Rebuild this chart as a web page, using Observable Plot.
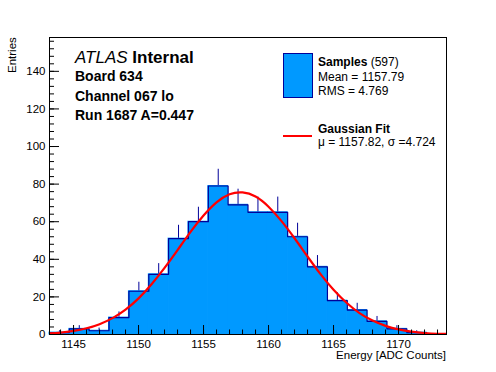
<!DOCTYPE html>
<html><head><meta charset="utf-8">
<script src="https://cdn.jsdelivr.net/npm/d3@7"></script>
<script src="https://cdn.jsdelivr.net/npm/@observablehq/plot@0.6"></script>
<style>
body{margin:0;background:#fff;}
#wrap{position:relative;width:496px;height:372px;font-family:"Liberation Sans",Arial,Helvetica,sans-serif;color:#000;}
.t{position:absolute;white-space:nowrap;line-height:1;}
.b{font-weight:bold;}
</style></head><body><div id="wrap"></div>
<script>
// Histogram bin edges (ADC counts) and contents
const binEdges = [1143.15, 1144.68, 1146.20, 1147.73, 1149.26, 1150.79, 1152.31, 1153.84, 1155.37, 1156.89,
                  1158.42, 1159.95, 1161.47, 1163.00, 1164.53, 1166.06, 1167.58, 1169.11, 1170.64, 1172.16, 1173.69];
const counts = [1, 3, 2, 9, 23, 32, 51, 60, 79, 69, 65, 65, 52, 36, 18, 13, 7, 3, 1, 0];
const errors = [1.0, 1.7, 1.4, 3.0, 4.8, 5.7, 7.1, 7.7, 8.9, 8.3, 8.1, 8.1, 7.2, 6.0, 4.2, 3.6, 2.6, 1.7, 1.0, 0];
// Gaussian fit curve
const fitX = [1143.15, 1144, 1145, 1146, 1147, 1148, 1149, 1150, 1151, 1152, 1153, 1154, 1155, 1156, 1157, 1158,
              1159, 1160, 1161, 1162, 1163, 1164, 1165, 1166, 1167, 1168, 1169, 1170, 1171, 1172, 1173, 1173.69];
const fitY = [0.6, 1.0, 1.9, 3.3, 5.5, 8.7, 13.2, 19.2, 26.7, 35.4, 44.9, 54.6, 63.3, 70.3, 74.6, 75.6,
              73.4, 68.0, 60.3, 51.2, 41.5, 32.1, 23.8, 16.9, 11.4, 7.4, 4.6, 2.7, 1.5, 0.8, 0.4, 0.3];
const xTickLabels = [1145, 1150, 1155, 1160, 1165, 1170];
const yTickLabels = [0, 20, 40, 60, 80, 100, 120, 140];
const yMax = 158;

const bins = counts.map((n, i) => ({x0: binEdges[i], x1: binEdges[i + 1], c: (binEdges[i] + binEdges[i + 1]) / 2, n, e: errors[i]}));
const outline = binEdges.map((x, i) => ({x, y: counts[Math.min(i, counts.length - 1)]}));
const fit = fitX.map((x, i) => ({x, y: fitY[i]}));
const xMinor = d3.range(1144, 1174, 1);
const yMinor = d3.range(0, yMax, 4);

const chart = Plot.plot({
  width: 496, height: 372,
  marginLeft: 49, marginRight: 50, marginTop: 37, marginBottom: 38,
  x: {domain: [binEdges[0], binEdges[binEdges.length - 1]]},
  y: {domain: [0, yMax]},
  style: {fontFamily: '"Liberation Sans", Arial, Helvetica, sans-serif', fontSize: "11.5px", background: "white", color: "black"},
  marks: [
    Plot.ruleX(bins, {x: "c", y1: d => d.n - d.e, y2: d => d.n + d.e, stroke: "#000099", strokeWidth: 1}),
    Plot.rectY(bins, {x1: "x0", x2: "x1", y1: 0, y2: "n", fill: "#0099ff", stroke: "#0099ff", strokeWidth: 1, inset: 0}),
    Plot.line(outline, {x: "x", y: "y", curve: "step-after", stroke: "#000099", strokeWidth: 1.2}),
    Plot.line(fit, {x: "x", y: "y", curve: "natural", stroke: "#ff0000", strokeWidth: 2.2, clip: true}),
    Plot.frame({stroke: "black", strokeWidth: 1}),
    Plot.axisY(yTickLabels, {tickSize: -10, tickFormat: () => "", label: null}),
    Plot.axisY(yMinor, {tickSize: -5, tickFormat: () => "", label: null}),
    Plot.axisY(yTickLabels, {tickSize: 0, tickPadding: 4, label: null, fontSize: 11.5}),
    Plot.axisX(xTickLabels, {tickSize: -9, tickFormat: () => "", label: null}),
    Plot.axisX(xMinor, {tickSize: -4.5, tickFormat: () => "", label: null}),
    Plot.axisX(xTickLabels, {tickSize: 0, tickPadding: 5, label: null, fontSize: 11.5, tickFormat: d => String(d)})
  ]
});
const wrap = document.getElementById("wrap");
wrap.appendChild(chart);

function addText(html, left, cy, size, cls, extra) {
  const d = document.createElement("div");
  d.className = "t " + (cls || "");
  d.innerHTML = html;
  d.style.left = left + "px";
  d.style.top = (cy - size / 2) + "px";
  d.style.fontSize = size + "px";
  if (extra) Object.assign(d.style, extra);
  wrap.appendChild(d);
  return d;
}
addText('<i>ATLAS</i> <b>Internal</b>', 75, 57, 17);
addText('Board 634', 75, 76, 14, "b");
addText('Channel 067 lo', 75, 96, 14, "b");
addText('Run 1687 A=0.447', 75, 115, 14, "b");
addText('<b>Samples</b> (597)', 318, 61.5, 12);
addText('Mean = 1157.79', 318, 77, 12);
addText('RMS = 4.769', 318, 90.5, 12);
addText('<b>Gaussian Fit</b>', 318, 129, 12);
addText('μ = 1157.82, σ =4.724', 318, 142, 12);
addText('Energy [ADC Counts]', 0, 356, 11.5, "", {left: "auto", right: (496 - 446) + "px"});
addText('Entries', 0, 0, 11.5, "", {left: "7px", top: "37px", transformOrigin: "0 0", transform: "translate(0px, 36px) rotate(-90deg)"});
// legend swatches
const box = document.createElement("div");
Object.assign(box.style, {position: "absolute", left: "283px", top: "53px", width: "28px", height: "43px", background: "#0099ff", border: "1px solid #000099"});
wrap.appendChild(box);
const ln = document.createElement("div");
Object.assign(ln.style, {position: "absolute", left: "283px", top: "135px", width: "29px", height: "2px", background: "#ff0000"});
wrap.appendChild(ln);
</script>
</body></html>
